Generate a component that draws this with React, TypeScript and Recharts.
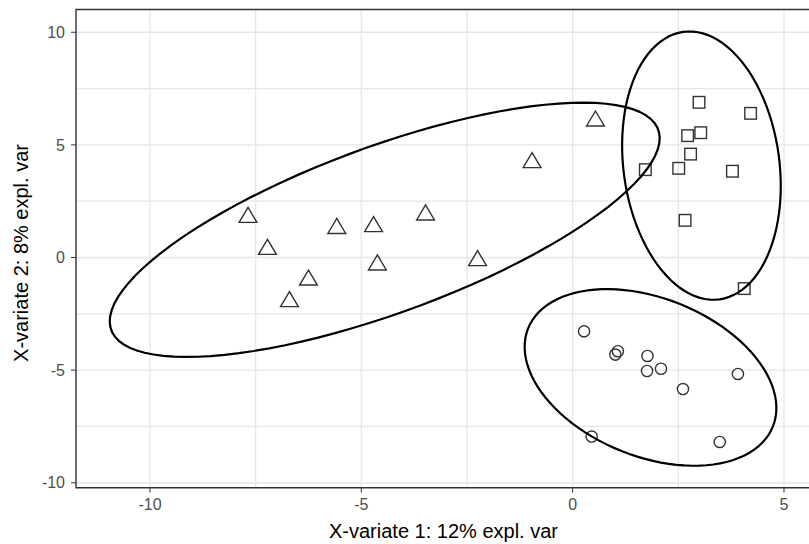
import React from 'react';
import { CartesianGrid, Label, ReferenceArea, Scatter, ScatterChart, XAxis, YAxis } from 'recharts';

// group 1 (triangles)
const triX = [-7.68, -7.22, -6.70, -6.25, -5.58, -4.71, -4.62, -3.48, -2.25, -0.96, 0.54];
const triY = [1.78, 0.36, -1.96, -1.00, 1.29, 1.37, -0.33, 1.89, -0.14, 4.21, 6.06];

// group 2 (squares)
const sqX = [2.99, 4.21, 2.72, 3.03, 2.79, 2.51, 1.72, 3.78, 2.66, 4.06];
const sqY = [6.89, 6.40, 5.41, 5.54, 4.59, 3.96, 3.90, 3.83, 1.65, -1.38];

// group 3 (circles)
const ciX = [0.27, 1.01, 1.07, 1.77, 1.76, 2.09, 2.61, 3.91, 3.48, 0.45];
const ciY = [-3.28, -4.31, -4.16, -4.37, -5.04, -4.94, -5.84, -5.17, -8.19, -7.95];

const xTicks = [-10, -5, 0, 5];
const yTicks = [-10, -5, 0, 5, 10];
const xGrid = [-10, -7.5, -5, -2.5, 0, 2.5, 5];
const yGrid = [-10, -7.5, -5, -2.5, 0, 2.5, 5, 7.5, 10];

const xDomain = [-11.75, 5.71];
const yDomain = [-10.22, 11.01];

const toPoints = (xs: number[], ys: number[]) => xs.map((x, i) => ({ x, y: ys[i] }));

// 95% confidence ellipse from the group's mean and covariance (same as ellipse::ellipse)
const confEllipse = (xs: number[], ys: number[], n = 100) => {
  const mx = xs.reduce((a, b) => a + b, 0) / xs.length;
  const my = ys.reduce((a, b) => a + b, 0) / ys.length;
  let vx = 0, vy = 0, cxy = 0;
  xs.forEach((x, i) => {
    vx += (x - mx) ** 2;
    vy += (ys[i] - my) ** 2;
    cxy += (x - mx) * (ys[i] - my);
  });
  const k = xs.length - 1;
  const sx = Math.sqrt(vx / k);
  const sy = Math.sqrt(vy / k);
  const r = cxy / k / (sx * sy);
  const t = Math.sqrt(-2 * Math.log(0.05));
  const d = Math.acos(r);
  const pts = [];
  for (let i = 0; i <= n; i++) {
    const a = (2 * Math.PI * i) / n;
    pts.push({ x: mx + t * sx * Math.cos(a + d / 2), y: my + t * sy * Math.cos(a - d / 2) });
  }
  return pts;
};

const markStroke = '#333333';

const Triangle = (p: any) => {
  const { cx, cy } = p;
  return (
    <polygon
      points={`${cx},${cy - 10} ${cx + 8.9},${cy + 5} ${cx - 8.9},${cy + 5}`}
      fill="none"
      stroke={markStroke}
      strokeWidth={1.4}
    />
  );
};

const Square = (p: any) => {
  const { cx, cy } = p;
  return <rect x={cx - 5.8} y={cy - 5.8} width={11.6} height={11.6} fill="none" stroke={markStroke} strokeWidth={1.4} />;
};

const Circle = (p: any) => {
  const { cx, cy } = p;
  return <circle cx={cx} cy={cy} r={5.6} fill="none" stroke={markStroke} strokeWidth={1.4} />;
};

const NoDot = () => <g />;

const tickStyle = { fill: '#4D4D4D', fontSize: 16 };

const App = () => {
  const ellipses = [confEllipse(triX, triY), confEllipse(sqX, sqY), confEllipse(ciX, ciY)];

  return (
    <div
      style={{
        position: 'absolute',
        left: 0,
        top: 0,
        width: 809,
        height: 544,
        overflow: 'hidden',
        background: '#fff',
        fontFamily: '"Liberation Sans", Arial, sans-serif',
      }}
    >
      <ScatterChart width={814} height={544} margin={{ top: 9.5, right: 0, bottom: 26.3, left: 26 }}>
        <CartesianGrid
          horizontalValues={yGrid}
          verticalValues={xGrid}
          stroke="#E6E6E6"
          strokeWidth={1.3}
        />
        <XAxis
          type="number"
          dataKey="x"
          domain={xDomain}
          ticks={xTicks}
          allowDataOverflow
          axisLine={false}
          tickLine={{ stroke: markStroke }}
          tickSize={5}
          tickMargin={6}
          tick={tickStyle}
          height={30}
        >
          <Label
            content={() => (
              <text x={443.5} y={537.7} textAnchor="middle" fontSize={20} fill="#000">
                X-variate 1: 12% expl. var
              </text>
            )}
          />
        </XAxis>
        <YAxis
          type="number"
          dataKey="y"
          domain={yDomain}
          ticks={yTicks}
          allowDataOverflow
          axisLine={false}
          tickLine={{ stroke: markStroke }}
          tickSize={5}
          tickMargin={6}
          tick={tickStyle}
          width={50}
        >
          <Label
            content={() => (
              <text x={27.5} y={253} transform="rotate(-90, 27.5, 253)" textAnchor="middle" fontSize={20} fill="#000">
                X-variate 2: 8% expl. var
              </text>
            )}
          />
        </YAxis>
        <Scatter data={toPoints(triX, triY)} shape={Triangle} isAnimationActive={false} />
        <Scatter data={toPoints(sqX, sqY)} shape={Square} isAnimationActive={false} />
        <Scatter data={toPoints(ciX, ciY)} shape={Circle} isAnimationActive={false} />
        {ellipses.map((pts, i) => (
          <Scatter
            key={i}
            data={pts}
            line={{ stroke: '#000', strokeWidth: 2.2 }}
            lineType="joint"
            shape={NoDot}
            isAnimationActive={false}
          />
        ))}
        <ReferenceArea
          x1={xDomain[0]}
          x2={xDomain[1]}
          y1={yDomain[0]}
          y2={yDomain[1]}
          fill="none"
          stroke={markStroke}
          strokeWidth={1.4}
          ifOverflow="visible"
        />
      </ScatterChart>
    </div>
  );
};

export default App;
